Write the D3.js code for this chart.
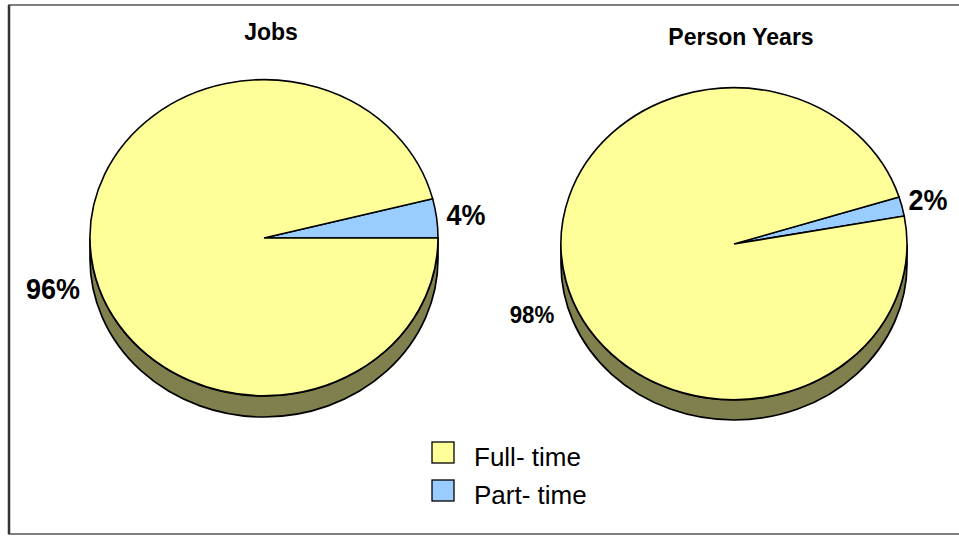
<!DOCTYPE html>
<html>
<script src='https://cdn.jsdelivr.net/npm/d3@7'></script>
<style>
 body {margin:0; background:#fff;}
 text {font-family: 'Liberation Sans Narrow', 'Arial Narrow', 'Liberation Sans', Arial, sans-serif;}
</style>
<body onload='init()'>
<svg width=959 height=536>
</svg>
<script>

// data
var charts = ['Jobs', 'Person Years'];
var categories = ['Part- time', 'Full- time'];
var jobsValues = [4, 96];
var personYearsValues = [2, 98];
var colors = ['#99ccff', '#ffff99'];

function init() {

 var svg = d3.select('svg');

 // frame
 svg.append('rect').attr('x', 9).attr('y', 5).attr('width', 960).attr('height', 529)
  .attr('fill', 'none').attr('stroke', '#555').attr('stroke-width', 1.5);
 svg.append('line').attr('x1', 9).attr('x2', 9).attr('y1', 5).attr('y2', 534)
  .attr('stroke', '#333').attr('stroke-width', 2.5);

 // one pie per chart: centre, radii, depth, where the small slice ends (deg above 3 o'clock)
 var pies = [
  {title: charts[0], values: jobsValues, cx: 264, cy: 238, rx: 174, ry: 158, depth: 21, rot: 0,
   tx: 271, ty: 40, lab: [{x: 466, y: 225, s: 29}, {x: 53, y: 299, s: 29}]},
  {title: charts[1], values: personYearsValues, cx: 734, cy: 244, rx: 173, ry: 156, depth: 20, rot: 10.3,
   tx: 741, ty: 45, lab: [{x: 928, y: 210, s: 29}, {x: 532, y: 323, s: 24}]}
 ];

 var arc = d3.arc().innerRadius(0).outerRadius(1);

 pies.forEach(function(p) {
  var g = svg.append('g');

  // side of the disc
  var sx = p.cx, sy = p.cy;
  g.append('path')
   .attr('d', 'M' + (sx - p.rx) + ',' + sy +
     ' L' + (sx - p.rx) + ',' + (sy + p.depth) +
     ' A' + p.rx + ',' + p.ry + ' 0 0 0 ' + (sx + p.rx) + ',' + (sy + p.depth) +
     ' L' + (sx + p.rx) + ',' + sy +
     ' A' + p.rx + ',' + p.ry + ' 0 0 1 ' + (sx - p.rx) + ',' + sy + ' Z')
   .attr('fill', '#80804f').attr('stroke', '#000').attr('stroke-width', 1.7);

  var total = d3.sum(p.values);
  var end = Math.PI / 2 - p.rot * Math.PI / 180;
  var start = end - p.values[0] / total * 2 * Math.PI;
  var pie = d3.pie().sort(null).value(function(d) { return d; })
   .startAngle(start).endAngle(start + 2 * Math.PI);

  g.append('g')
   .attr('transform', 'translate(' + p.cx + ',' + p.cy + ') scale(' + p.rx + ',' + p.ry + ')')
   .selectAll('path')
   .data(pie(p.values))
   .enter()
    .append('path')
     .attr('d', arc)
     .attr('fill', function(d, i) { return colors[i]; })
     .attr('stroke', '#000')
     .attr('stroke-width', 1.6)
     .attr('vector-effect', 'non-scaling-stroke');

  g.append('text').attr('x', p.tx).attr('y', p.ty)
   .attr('text-anchor', 'middle').attr('font-weight', 'bold').attr('font-size', 23)
   .text(p.title);

  p.values.forEach(function(v, i) {
   g.append('text')
    .attr('transform', 'translate(' + p.lab[i].x + ',' + p.lab[i].y + ') scale(0.93,1)')
    .attr('text-anchor', 'middle').attr('font-weight', 'bold').attr('font-size', p.lab[i].s)
    .text(v + '%');
  });
 });

 // legend
 var order = [1, 0];
 var leg = svg.append('g').selectAll('g').data(order).enter().append('g')
  .attr('transform', function(d, i) { return 'translate(432,' + (442 + i * 38) + ')'; });
 leg.append('rect').attr('width', 22).attr('height', 21)
  .attr('fill', function(d) { return colors[d]; }).attr('stroke', '#000').attr('stroke-width', 1.3);
 leg.append('text').attr('x', 42).attr('y', 24)
  .style('font-family', "'Liberation Sans', Arial, sans-serif")
  .attr('font-size', 26)
  .text(function(d) { return categories[d]; });
}

</script>
</body>
</html>
